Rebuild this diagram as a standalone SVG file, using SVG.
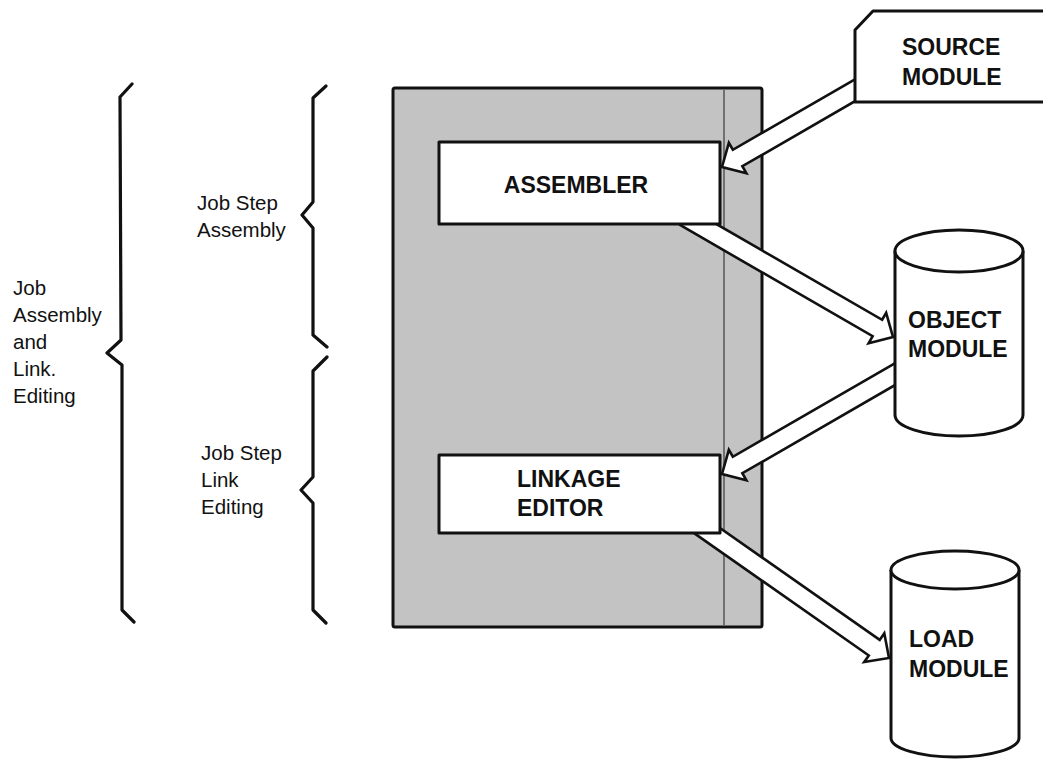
<svg xmlns="http://www.w3.org/2000/svg" width="1043" height="759" viewBox="0 0 1043 759">
<style>
.bg{fill:#ffffff}
.shade{fill:#c3c3c3;stroke:#111;stroke-width:3}
.box{fill:#ffffff;stroke:#111;stroke-width:3;stroke-linejoin:round}
.arrow{fill:#ffffff;stroke:#111;stroke-width:2.6;stroke-linejoin:miter}
.brace{fill:none;stroke:#111;stroke-width:3.2;stroke-linejoin:round;stroke-linecap:round}
.lbl{font-family:"Liberation Sans",Arial,sans-serif;font-size:23px;font-weight:bold;fill:#111}
.side{font-family:"Liberation Sans",Arial,sans-serif;font-size:20.5px;fill:#111}
</style>
<rect class="bg" x="0" y="0" width="1043" height="759"/>

<g id="job-brace">
<polyline class="brace" points="132,84 120,97 121,340 107,353 122,365 122,610 134,622"/>
<text class="side" x="13" y="295">Job</text>
<text class="side" x="13" y="322">Assembly</text>
<text class="side" x="13" y="349">and</text>
<text class="side" x="13" y="376">Link.</text>
<text class="side" x="13" y="403">Editing</text>
</g>

<g id="step-assembly-brace">
<polyline class="brace" points="326,86 313,98 313,202 302,215 313,228 313,335 327,347"/>
<text class="side" x="197" y="210">Job Step</text>
<text class="side" x="197" y="237">Assembly</text>
</g>

<g id="step-link-brace">
<polyline class="brace" points="327,357 313,371 313,477 301,490 313,503 313,610 326,623"/>
<text class="side" x="201" y="460">Job Step</text>
<text class="side" x="201" y="487">Link</text>
<text class="side" x="201" y="514">Editing</text>
</g>

<g id="job-step-panel">
<rect class="shade" x="393" y="88" width="369" height="539" rx="2"/>
<line x1="724" y1="90" x2="724" y2="625" stroke="#555" stroke-width="1.5"/>
</g>

<g id="connectors">
<polygon class="arrow" points="857.55,77.77 732.84,149.77 728.84,142.85 722,167 746.34,173.16 742.34,166.23 867.05,94.23"/>
<polygon class="arrow" points="680.41,225.23 872.66,336.23 868.66,343.16 893,337 886.16,312.85 882.16,319.77 689.91,208.77"/>
<polygon class="arrow" points="903.45,358.27 732.84,456.77 728.84,449.85 722,474 746.34,480.16 742.34,473.23 912.95,374.73"/>
<polygon class="arrow" points="686.95,528.08 868.8,655.46 864.21,662.02 889,658 884.29,633.34 879.7,639.9 697.85,512.52"/>
</g>

<g id="source-module">
<path class="box" d="M873,11 L1050,11 L1050,102 L855,102 L855,30 Z"/>
<text class="lbl" x="902" y="55">SOURCE</text>
<text class="lbl" x="902" y="85">MODULE</text>
</g>

<g id="assembler">
<rect class="box" x="439" y="142" width="281" height="82"/>
<text class="lbl" x="576" y="193" text-anchor="middle">ASSEMBLER</text>
</g>

<g id="linkage-editor">
<rect class="box" x="439" y="455" width="281" height="78"/>
<text class="lbl" x="517" y="487">LINKAGE</text>
<text class="lbl" x="517" y="516">EDITOR</text>
</g>

<g id="object-module">
<path class="box" d="M895,251 L895,415 A64,21 0 0 0 1023,415 L1023,251 A64,21 0 0 0 895,251 Z"/>
<path class="box" fill="none" d="M895,251 A64,21 0 0 0 1023,251"/>
<text class="lbl" x="908" y="328">OBJECT</text>
<text class="lbl" x="908" y="357">MODULE</text>
</g>

<g id="load-module">
<path class="box" d="M891,570 L891,738 A64,19 0 0 0 1019,738 L1019,570 A64,19 0 0 0 891,570 Z"/>
<path class="box" fill="none" d="M891,570 A64,19 0 0 0 1019,570"/>
<text class="lbl" x="909" y="647">LOAD</text>
<text class="lbl" x="909" y="677">MODULE</text>
</g>
</svg>
